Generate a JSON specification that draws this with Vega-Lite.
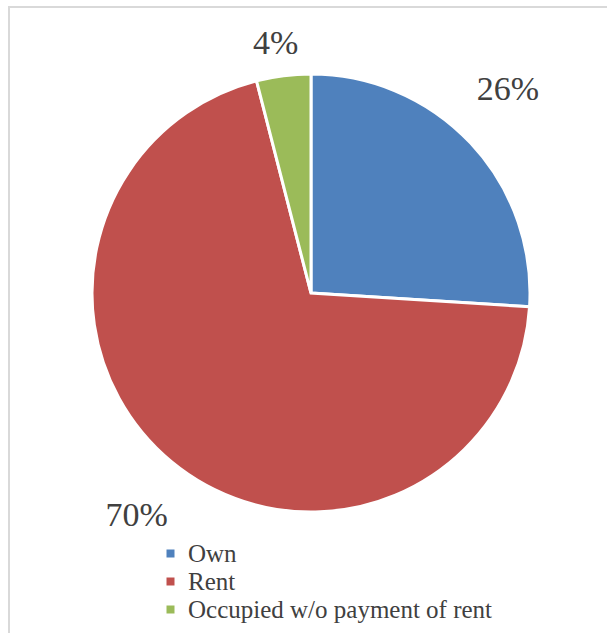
{
  "$schema": "https://vega.github.io/schema/vega-lite/v6.json",
  "autosize": {"type": "none"},
  "padding": {"left": 9, "top": 7, "right": 0, "bottom": 0},
  "width": 620,
  "height": 640,
  "background": "white",
  "view": {"stroke": "#d9d9d9", "strokeWidth": 2},
  "config": {"view": {"stroke": "#d9d9d9", "strokeWidth": 2}},
  "data": {"values": [
    {"category": "Own", "value": 26, "order": 1},
    {"category": "Rent", "value": 70, "order": 2},
    {"category": "Occupied w/o payment of rent", "value": 4, "order": 3}
  ]},
  "encoding": {
    "theta": {"field": "value", "type": "quantitative", "stack": true},
    "order": {"field": "order", "type": "quantitative"},
    "color": {
      "field": "category", "type": "nominal", "sort": null,
      "scale": {"domain": ["Own", "Rent", "Occupied w/o payment of rent"], "range": ["#4F81BD", "#C0504D", "#9BBB59"]},
      "legend": {
        "title": null, "orient": "none", "legendX": 149, "legendY": 534,
        "symbolType": "square", "symbolSize": 64, "symbolStrokeWidth": 0,
        "labelFont": "Liberation Serif", "labelFontSize": 25, "labelColor": "#404040", "labelLimit": 500,
        "rowPadding": 2, "labelOffset": 5
      }
    }
  },
  "layer": [
    {"mark": {"type": "arc", "outerRadius": 219, "x": 302, "y": 286, "stroke": "white", "strokeWidth": 3}},
    {"mark": {"type": "text", "x": 302, "y": 286, "font": "Liberation Serif", "fontSize": 34, "color": "#404040",
      "text": {"expr": "datum.value + '%'"},
      "radius": {"expr": "datum.category === 'Own' ? 281 : datum.category === 'Rent' ? 283 : 251"},
      "dx": {"expr": "datum.category === 'Own' ? -8 : datum.category === 'Rent' ? 6 : -4"},
      "dy": {"expr": "datum.category === 'Own' ? -11 : datum.category === 'Rent' ? 5 : 0"},
      "baseline": "middle", "align": "center"},
     "encoding": {"color": {"value": "#404040"}}
    }
  ]
}
